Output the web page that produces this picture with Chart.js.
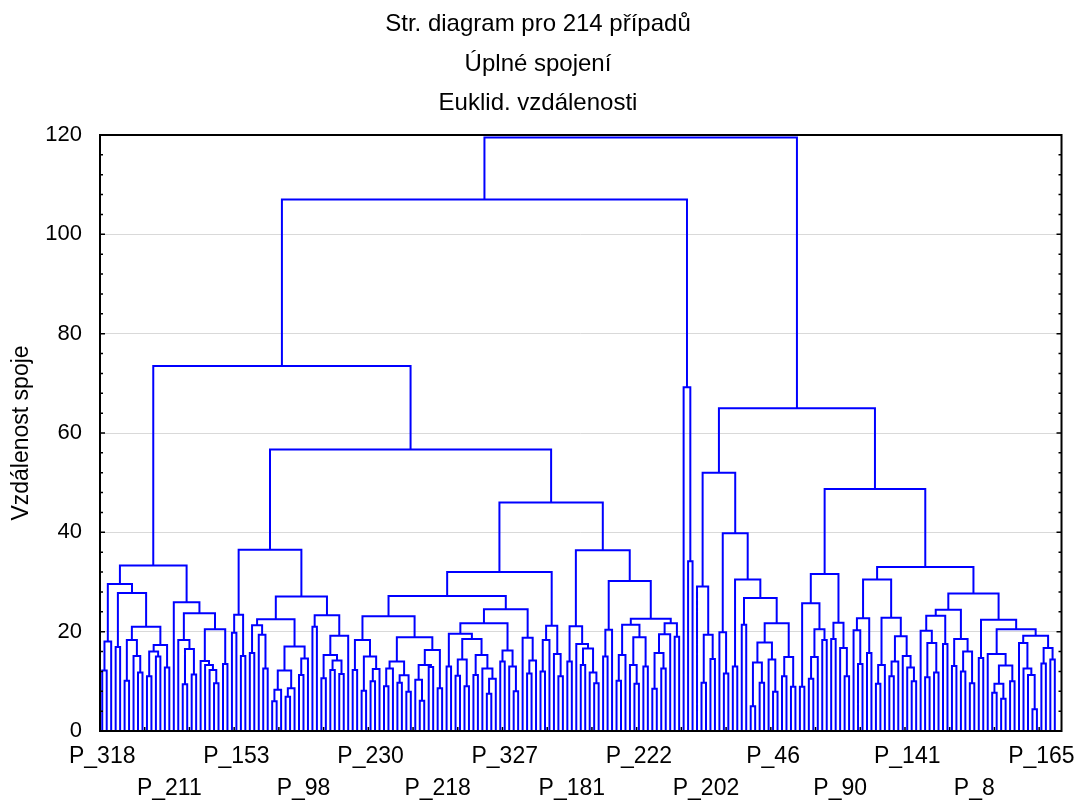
<!DOCTYPE html>
<html>
<head>
<meta charset="utf-8">
<script src="https://cdn.jsdelivr.net/npm/chart.js@4.4.1/dist/chart.umd.min.js"></script>
<style>
  html, body { margin: 0; padding: 0; background: #fff; }
  canvas { display: block; }
</style>
</head>
<body>
<canvas id="c" width="1085" height="801"></canvas>
<script>
// Title lines
const titleLines = ['Str. diagram pro 214 případů', 'Úplné spojení', 'Euklid. vzdálenosti'];
const yAxisTitle = 'Vzdálenost spoje';

// x-axis case labels and the leaf (case) index each one is attached to
const tickLabels = ['P_318', 'P_211', 'P_153', 'P_98', 'P_230', 'P_218', 'P_327', 'P_181',
                    'P_222', 'P_202', 'P_46', 'P_90', 'P_141', 'P_8', 'P_165'];
const tickLeafIndex = [0, 15, 30, 45, 60, 75, 90, 105, 120, 135, 150, 165, 180, 195, 210];

// Linkage distance at which each leaf joins its right-hand neighbour (leaf order as drawn).
// Leaves 0..55
const joinHeightsA = [
  12.2, 18.0, 29.6, 16.9, 27.8, 10.1, 18.3, 15.1, 11.8, 21.0,
  11.0, 16.0, 15.0, 17.3, 12.8, 33.3, 25.9, 18.3, 9.4, 16.5,
  11.4, 23.7, 14.1, 13.3, 12.3, 9.6, 20.5, 13.5, 73.5, 19.8,
  23.4, 15.1, 36.5, 15.7, 21.3, 19.4, 12.6, 22.5, 6.0, 8.3,
  12.2, 6.9, 8.6, 17.0, 11.3, 14.6, 27.1, 21.0, 23.3, 10.6,
  15.3, 12.3, 14.2, 11.5, 19.2, 56.7
];
// Leaves 56..132
const joinHeightsB = [
  12.3, 18.3, 8.1, 15.0, 10.0, 12.5, 23.1, 9.0, 12.6, 14.0,
  9.7, 11.2, 7.9, 18.9, 10.3, 6.1, 13.3, 12.9, 16.3, 8.6,
  27.2, 13.0, 19.6, 11.1, 14.4, 9.0, 18.5, 11.3, 15.3, 12.6,
  7.5, 10.5, 21.7, 14.0, 16.2, 13.0, 8.0, 24.5, 18.8, 11.6,
  14.2, 32.0, 12.0, 18.3, 21.2, 15.5, 11.0, 46.0, 14.0, 21.1,
  17.5, 13.3, 16.6, 11.8, 9.6, 36.4, 15.0, 20.4, 30.2, 10.1,
  15.3, 21.4, 13.3, 9.5, 18.9, 13.0, 22.6, 8.5, 15.7, 12.6,
  19.5, 21.7, 19.0, 107.0, 69.2, 34.2, 119.5
];
// Leaves 133..213
const joinHeightsC = [
  29.1, 9.7, 19.4, 14.5, 52.0, 19.9, 11.6, 39.8, 13.0, 30.5,
  21.4, 26.8, 5.0, 13.8, 9.7, 17.8, 14.4, 7.9, 21.7, 11.0,
  14.9, 8.9, 65.0, 8.9, 25.7, 10.5, 14.9, 20.5, 18.3, 31.6,
  18.5, 21.8, 16.7, 11.0, 48.7, 20.3, 13.5, 22.7, 15.7, 30.5,
  9.5, 13.3, 22.8, 11.0, 14.0, 19.1, 15.1, 12.8, 10.0, 33.0,
  20.2, 10.8, 17.7, 11.8, 23.2, 17.5, 24.4, 13.1, 18.5, 12.0,
  16.0, 9.6, 27.7, 14.7, 22.4, 15.5, 7.7, 9.5, 6.5, 13.2,
  10.0, 20.5, 17.7, 12.6, 11.3, 4.4, 19.2, 13.6, 16.7, 14.4
];

const yTicks = [0, 20, 40, 60, 80, 100, 120];

// ---- build dendrogram polylines from the join heights ----
const joinHeights = joinHeightsA.concat(joinHeightsB, joinHeightsC);
const leafCount = joinHeights.length + 1;
const segments = [];
function buildCluster(lo, hi) {
  if (lo === hi) return { x: lo + 0.5, h: 0 };
  let k = lo;
  for (let i = lo + 1; i < hi; i++) if (joinHeights[i] > joinHeights[k]) k = i;
  const L = buildCluster(lo, k);
  const R = buildCluster(k + 1, hi);
  const h = joinHeights[k];
  segments.push({ x: L.x, y: L.h }, { x: L.x, y: h }, { x: R.x, y: h }, { x: R.x, y: R.h }, { x: R.x, y: null });
  return { x: (L.x + R.x) / 2, h: h };
}
buildCluster(0, leafCount - 1);

const FONT = "'Liberation Sans', Arial, sans-serif";

const framePlugin = {
  id: 'frame',
  afterDatasetsDraw(chart) {
    const { ctx, chartArea: a, scales } = chart;
    const xs = scales.x, ys = scales.y;
    ctx.save();
    ctx.strokeStyle = '#000';
    ctx.lineWidth = 1.5;
    ctx.beginPath();
    for (let v = yTicks[0]; v <= yTicks[yTicks.length - 1]; v += 4) {
      const py = ys.getPixelForValue(v);
      const len = (v % 20 === 0) ? 5 : 3;
      ctx.moveTo(a.left, py); ctx.lineTo(a.left + len, py);
      ctx.moveTo(a.right, py); ctx.lineTo(a.right - len, py);
    }
    for (let v = 10; v < leafCount + 1; v += 10) {
      const px = xs.getPixelForValue(v);
      ctx.moveTo(px, a.bottom); ctx.lineTo(px, a.bottom - 4);
    }
    ctx.stroke();
    ctx.lineWidth = 2;
    ctx.strokeRect(a.left, a.top, a.right - a.left, a.bottom - a.top);
    ctx.restore();
  }
};

new Chart(document.getElementById('c'), {
  type: 'scatter',
  data: {
    datasets: [{
      data: segments,
      showLine: true,
      borderColor: '#0000ff',
      backgroundColor: '#0000ff',
      borderWidth: 2,
      pointRadius: 0,
      pointHoverRadius: 0,
      spanGaps: false,
      tension: 0,
      borderJoinStyle: 'miter',
      borderCapStyle: 'butt',
      clip: 4
    }]
  },
  options: {
    responsive: false,
    animation: false,
    devicePixelRatio: 1,
    events: [],
    layout: { padding: { left: 8, right: 17, top: 0, bottom: 0 } },
    plugins: {
      legend: { display: false },
      tooltip: { enabled: false },
      title: {
        display: true,
        text: titleLines,
        color: '#000',
        font: { family: FONT, size: 24, weight: 'normal', lineHeight: '39.5px' },
        padding: { top: 5, bottom: 11.5 }
      }
    },
    scales: {
      x: {
        type: 'linear',
        min: 0,
        max: leafCount + 1,
        afterBuildTicks: (s) => { s.ticks = tickLeafIndex.map(i => ({ value: i + 0.5 })); },
        afterFit: (s) => { s.height = 70; },
        grid: { display: false, drawTicks: false },
        border: { display: false },
        ticks: {
          autoSkip: false, maxRotation: 0, minRotation: 0, padding: 10,
          color: '#000',
          font: { family: FONT, size: 23, lineHeight: '31.5px' },
          callback: (v, i) => (i % 2 === 0 ? [tickLabels[i], ''] : ['', tickLabels[i]])
        }
      },
      y: {
        min: yTicks[0],
        max: yTicks[yTicks.length - 1],
        afterBuildTicks: (s) => { s.ticks = yTicks.map(v => ({ value: v })); },
        afterFit: (s) => { s.width = 92; },
        grid: { color: '#d9d9d9', lineWidth: 1, drawTicks: false },
        border: { display: false },
        ticks: { padding: 18, color: '#000', font: { family: FONT, size: 22 } },
        title: {
          display: true, text: yAxisTitle, color: '#000',
          font: { family: FONT, size: 23 },
          padding: { top: 0, bottom: 0 }
        }
      }
    }
  },
  plugins: [framePlugin]
});
</script>
</body>
</html>
